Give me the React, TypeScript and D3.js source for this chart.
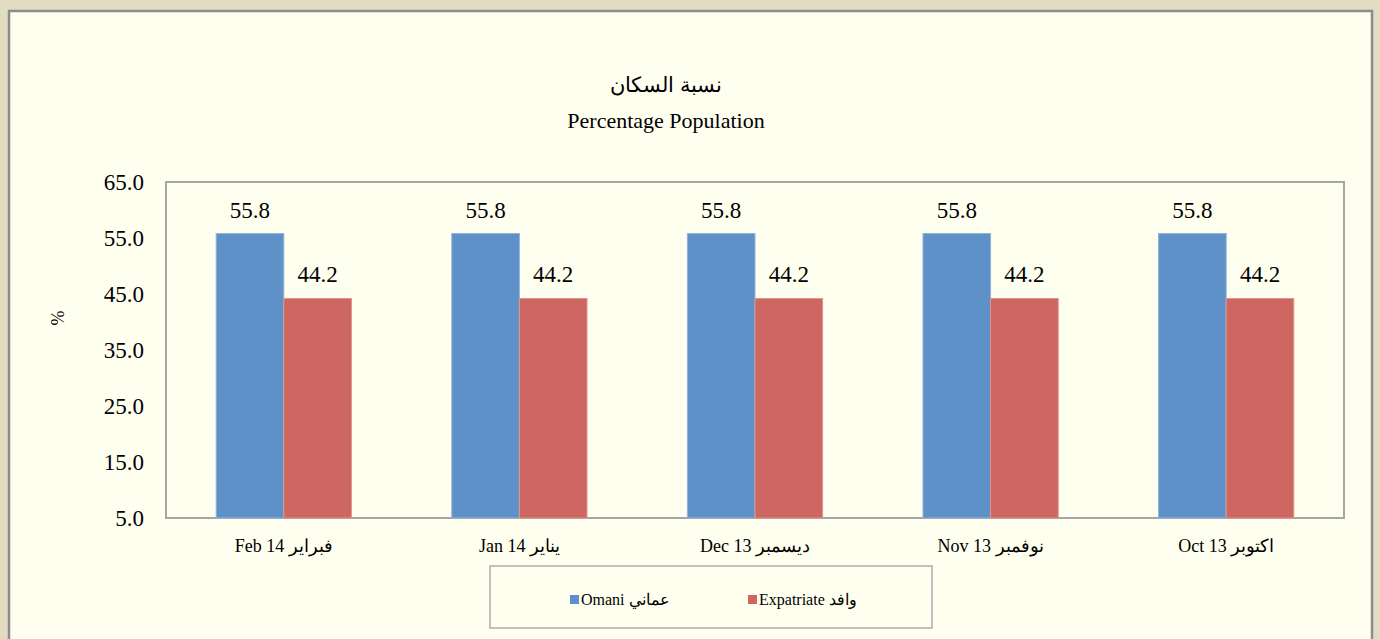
import { scaleBand, scaleLinear, range } from "d3";

// categories left to right as in the picture
const categories = [
  "Feb 14 فبراير",
  "Jan 14 يناير",
  "Dec 13 ديسمبر",
  "Nov 13 نوفمبر",
  "Oct 13 اكتوبر",
];
const omani = [55.8, 55.8, 55.8, 55.8, 55.8];
const expatriate = [44.2, 44.2, 44.2, 44.2, 44.2];
const seriesNames = ["Omani عماني", "Expatriate وافد"];
const yTicks = [5, 15, 25, 35, 45, 55, 65];

const colors = ["#5d91c7", "#ce6661"];
const W = 1380;
const H = 639;
// plot area edges
const MARGINS = { top: 182, right: 36, bottom: 121, left: 166 };
const FONT = "'Liberation Serif', 'Times New Roman', serif";

const App = () => {
  const x = scaleBand<string>()
    .domain(categories)
    .range([MARGINS.left, W - MARGINS.right]);
  const y = scaleLinear()
    .domain([5, 65])
    .range([H - MARGINS.bottom, MARGINS.top]);
  const barW = x.bandwidth() * 0.287;
  const series = [omani, expatriate];

  return (
    <svg
      width={W}
      height={H}
      style={{ position: "absolute", left: 0, top: 0, display: "block", fontFamily: FONT }}
    >
      <rect x={0} y={0} width={W} height={H} fill="#e2dcc3" />
      <rect x={9} y={11} width={1363} height={H} fill="#fffff0" stroke="#8c8c8c" strokeWidth={2.5} />

      {/* title */}
      <text x={666} y={92} textAnchor="middle" fontSize={21} fill="#000">
        نسبة السكان
      </text>
      <text x={666} y={128} textAnchor="middle" fontSize={22} fill="#000">
        Percentage Population
      </text>

      {/* plot area */}
      <rect
        x={MARGINS.left}
        y={MARGINS.top}
        width={W - MARGINS.right - MARGINS.left}
        height={H - MARGINS.bottom - MARGINS.top}
        fill="none"
        stroke="#a6a6a6"
        strokeWidth={2}
      />

      {/* y axis labels */}
      {yTicks.map((t) => (
        <text key={t} x={144} y={y(t) + 8} textAnchor="end" fontSize={23} fill="#000">
          {t.toFixed(1)}
        </text>
      ))}
      <text
        transform={`translate(64, ${318}) rotate(-90)`}
        textAnchor="middle"
        fontSize={18}
        fill="#000"
      >
        %
      </text>

      {/* bars */}
      {categories.map((c, i) => {
        const cx = (x(c) ?? 0) + x.bandwidth() / 2;
        return (
          <g key={c}>
            {series.map((s, j) => {
              const bx = cx - barW + j * barW;
              return (
                <g key={j}>
                  <rect
                    x={bx}
                    y={y(s[i])}
                    width={barW}
                    height={y(5) - y(s[i])}
                    fill={colors[j]}
                    stroke={j === 0 ? "#8fb4dc" : "#e09490"}
                    strokeWidth={1}
                  />
                  <text
                    x={bx + barW / 2}
                    y={y(s[i]) - 16}
                    textAnchor="middle"
                    fontSize={23}
                    fill="#000"
                  >
                    {s[i].toFixed(1)}
                  </text>
                </g>
              );
            })}
            <text x={cx} y={552} textAnchor="middle" fontSize={18} fill="#000" direction="ltr">
              {c}
            </text>
          </g>
        );
      })}

      {/* legend */}
      <rect x={490} y={566} width={442} height={62} fill="#fffff0" stroke="#c0c0c0" strokeWidth={2} />
      {range(seriesNames.length).map((j) => (
        <g key={j} transform={`translate(${570 + j * 178}, 599)`}>
          <rect x={0} y={-4} width={9} height={9} fill={colors[j]} />
          <text x={11} y={6} fontSize={16} fill="#000" direction="ltr">
            {seriesNames[j]}
          </text>
        </g>
      ))}
    </svg>
  );
};

export default App;
